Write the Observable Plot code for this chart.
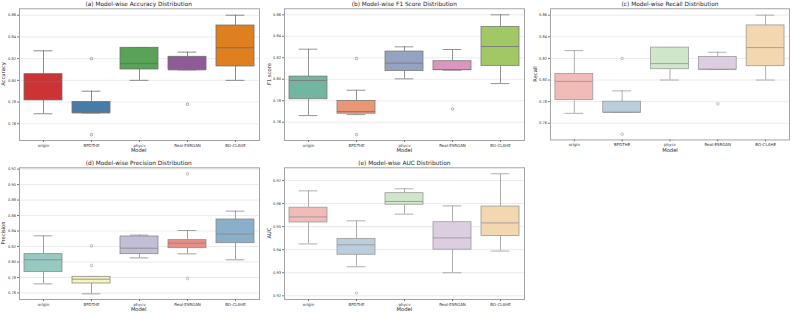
<!DOCTYPE html>
<html><head><meta charset="utf-8">
<script src="https://cdn.jsdelivr.net/npm/d3@7"></script>
<script src="https://cdn.jsdelivr.net/npm/@observablehq/plot@0.6"></script>
<style>
body{margin:0;background:#fff;}
#fig{position:relative;width:792px;height:313px;overflow:hidden;font-family:"DejaVu Sans",sans-serif;color:#222;background:#fff;}
.panel{position:absolute;}
.lab{position:absolute;white-space:nowrap;transform:translate(-50%,-50%);line-height:1;}
.title{font-size:5.8px;}
.xl{font-size:5.2px;}
.yl{font-size:5.2px;transform:translate(-50%,-50%) rotate(-90deg);}
</style>
</head><body>
<div id="fig"></div>
<script>
// ---- data ----
const models = ["origin", "BPDTHE", "phycv", "Real-ESRGAN", "BO-CLAHE"];

// box statistics per model: [lower whisker, Q1, median, Q3, upper whisker]
const accuracyStats = [
  [0.7692, 0.7815, 0.7987, 0.8057, 0.8272],
  [0.7700, 0.7700, 0.7700, 0.7800, 0.7900],
  [0.8000, 0.8100, 0.8155, 0.8300, 0.8300],
  [0.8097, 0.8097, 0.8097, 0.8217, 0.8260],
  [0.8000, 0.8128, 0.8300, 0.8505, 0.8600]
];
const accuracyOutliers = [["BPDTHE", 0.82], ["BPDTHE", 0.75], ["Real-ESRGAN", 0.778]];

const f1Stats = [
  [0.7662, 0.7814, 0.7988, 0.8025, 0.8280],
  [0.7671, 0.7680, 0.7700, 0.7799, 0.7898],
  [0.8004, 0.8078, 0.8150, 0.8258, 0.8302],
  [0.8084, 0.8084, 0.8091, 0.8168, 0.8277],
  [0.7960, 0.8125, 0.8305, 0.8488, 0.8600]
];
const f1Outliers = [["BPDTHE", 0.8193], ["BPDTHE", 0.7485], ["Real-ESRGAN", 0.7724]];

const recallStats = [
  [0.7692, 0.7815, 0.7987, 0.8057, 0.8272],
  [0.7700, 0.7700, 0.7700, 0.7800, 0.7900],
  [0.8000, 0.8100, 0.8152, 0.8300, 0.8300],
  [0.8097, 0.8097, 0.8097, 0.8213, 0.8257],
  [0.8000, 0.8128, 0.8300, 0.8505, 0.8600]
];
const recallOutliers = [["BPDTHE", 0.82], ["BPDTHE", 0.75], ["Real-ESRGAN", 0.778]];

const precisionStats = [
  [0.7717, 0.7872, 0.8028, 0.8101, 0.8338],
  [0.7588, 0.7722, 0.7778, 0.7808, 0.7808],
  [0.8053, 0.8101, 0.8178, 0.8329, 0.8347],
  [0.8105, 0.8178, 0.8243, 0.8282, 0.8407],
  [0.8028, 0.8243, 0.8360, 0.8549, 0.8657]
];
const precisionOutliers = [["BPDTHE", 0.8209], ["BPDTHE", 0.7954], ["Real-ESRGAN", 0.914], ["Real-ESRGAN", 0.7786]];

const aucStats = [
  [0.9425, 0.9518, 0.9542, 0.9582, 0.9655],
  [0.9326, 0.9378, 0.9421, 0.9447, 0.9525],
  [0.9554, 0.9595, 0.9609, 0.9645, 0.9664],
  [0.9300, 0.9400, 0.9451, 0.9519, 0.9590],
  [0.9394, 0.9459, 0.9516, 0.9587, 0.9729]
];
const aucOutliers = [["BPDTHE", 0.9212]];

// axis ranges and tick labels
const accuracyDomain = [0.7446, 0.8659];
const f1Domain = [0.7430, 0.8656];
const recallDomain = [0.7446, 0.8659];
const precisionDomain = [0.7515, 0.9217];
const aucDomain = [0.9184, 0.9755];
const ticks086 = [0.76, 0.78, 0.80, 0.82, 0.84, 0.86];
const precisionTicks = [0.76, 0.78, 0.80, 0.82, 0.84, 0.86, 0.88, 0.90, 0.92];
const aucTicks = [0.92, 0.93, 0.94, 0.95, 0.96, 0.97];

// palettes
const set1 = ["#e41a1c", "#377eb8", "#4daf4a", "#984ea3", "#ff7f00"];
const set2 = ["#66c2a5", "#fc8d62", "#8da0cb", "#e78ac3", "#a6d854"];
const pastel1 = ["#fbb4ae", "#b3cde3", "#ccebc5", "#decbe4", "#fed9a6"];
const set3 = ["#8dd3c7", "#ffffb3", "#bebada", "#fb8072", "#80b1d3"];

const titles = ["(a) Model-wise Accuracy Distribution", "(b) Model-wise F1 Score Distribution",
  "(c) Model-wise Recall Distribution", "(d) Model-wise Precision Distribution", "(e) Model-wise AUC Distribution"];
const yLabels = ["Accuracy", "F1 score", "Recall", "Precision", "AUC"];
const xLabel = "Model";

// ---- layout ----
const panels = [
  {stats: accuracyStats, out: accuracyOutliers, domain: accuracyDomain, ticks: ticks086, pal: set1, gray: "#6e6e6e", left: 18.7, row: 0},
  {stats: f1Stats, out: f1Outliers, domain: f1Domain, ticks: ticks086, pal: set2, gray: "#7a7a7a", left: 284.3, row: 0},
  {stats: recallStats, out: recallOutliers, domain: recallDomain, ticks: ticks086, pal: pastel1, gray: "#9a9a9a", left: 550.0, row: 0},
  {stats: precisionStats, out: precisionOutliers, domain: precisionDomain, ticks: precisionTicks, pal: set3, gray: "#8a8a8a", left: 18.7, row: 1},
  {stats: aucStats, out: aucOutliers, domain: aucDomain, ticks: aucTicks, pal: pastel1, gray: "#9a9a9a", left: 284.3, row: 1}
];

const fig = document.getElementById("fig");
const AW = 240, ML = 19, MR = 3, MT = 8.3, MB = 10, H = 150;
const rowTop = [0, 159];
const bw = AW / 5 * 0.8;

function desat(c) { const h = d3.hsl(c); h.s *= 0.75; return h.formatHex(); }
function addLabel(text, cls, x, y) {
  const d = document.createElement("div");
  d.className = "lab " + cls; d.textContent = text;
  d.style.left = x + "px"; d.style.top = y + "px";
  fig.appendChild(d);
}

panels.forEach((p, k) => {
  const rows = models.map((m, i) => ({model: m, lo: p.stats[i][0], q1: p.stats[i][1], med: p.stats[i][2], q3: p.stats[i][3], hi: p.stats[i][4]}));
  const outs = p.out.map(([m, v]) => ({model: m, v}));
  const colors = p.pal.map(desat);
  const svg = Plot.plot({
    width: ML + AW + MR, height: H,
    marginLeft: ML, marginRight: MR, marginTop: MT, marginBottom: MB,
    style: {fontFamily: "DejaVu Sans, sans-serif", color: "#333", background: "white"},
    x: {type: "band", domain: models, paddingInner: 0.2, paddingOuter: 0.1},
    y: {domain: p.domain},
    color: {domain: models, range: colors},
    marks: [
      Plot.gridY(p.ticks, {stroke: "#e3e3e3", strokeOpacity: 1, strokeWidth: 0.7}),
      Plot.ruleX(rows, {x: "model", y1: "lo", y2: "q1", stroke: p.gray, strokeWidth: 0.8}),
      Plot.ruleX(rows, {x: "model", y1: "q3", y2: "hi", stroke: p.gray, strokeWidth: 0.8}),
      Plot.tickY(rows, {x: "model", y: "lo", stroke: p.gray, strokeWidth: 0.8, insetLeft: bw / 4, insetRight: bw / 4}),
      Plot.tickY(rows, {x: "model", y: "hi", stroke: p.gray, strokeWidth: 0.8, insetLeft: bw / 4, insetRight: bw / 4}),
      Plot.barY(rows, {x: "model", y1: "q1", y2: "q3", fill: "model", stroke: p.gray, strokeWidth: 0.8}),
      Plot.tickY(rows, {x: "model", y: "med", stroke: p.gray, strokeWidth: 0.9}),
      Plot.dot(outs, {x: "model", y: "v", r: 1.3, stroke: p.gray, strokeWidth: 0.6, fill: "none"}),
      Plot.frame({stroke: "#9a9a9a", strokeWidth: 0.9}),
      Plot.axisY(p.ticks, {tickSize: 2, tickPadding: 1.5, fontSize: 3.6, tickFormat: d3.format(".2f"), label: null, stroke: "#777"}),
      Plot.axisX(models, {tickSize: 2, tickPadding: 1.2, fontSize: 4, label: null, stroke: "#777"})
    ]
  });
  const wrap = document.createElement("div");
  wrap.className = "panel";
  wrap.style.left = (p.left - ML) + "px";
  wrap.style.top = rowTop[p.row] + "px";
  wrap.appendChild(svg);
  fig.appendChild(wrap);

  const cx = p.left + AW / 2;
  const top = rowTop[p.row] + MT;
  const bottom = rowTop[p.row] + H - MB;
  addLabel(titles[k], "title", cx, top - 3.6);
  addLabel(xLabel, "xl", cx, bottom + 11);
  addLabel(yLabels[k], "yl", p.left - 14.5, (top + bottom) / 2);
});
</script>
</body></html>
